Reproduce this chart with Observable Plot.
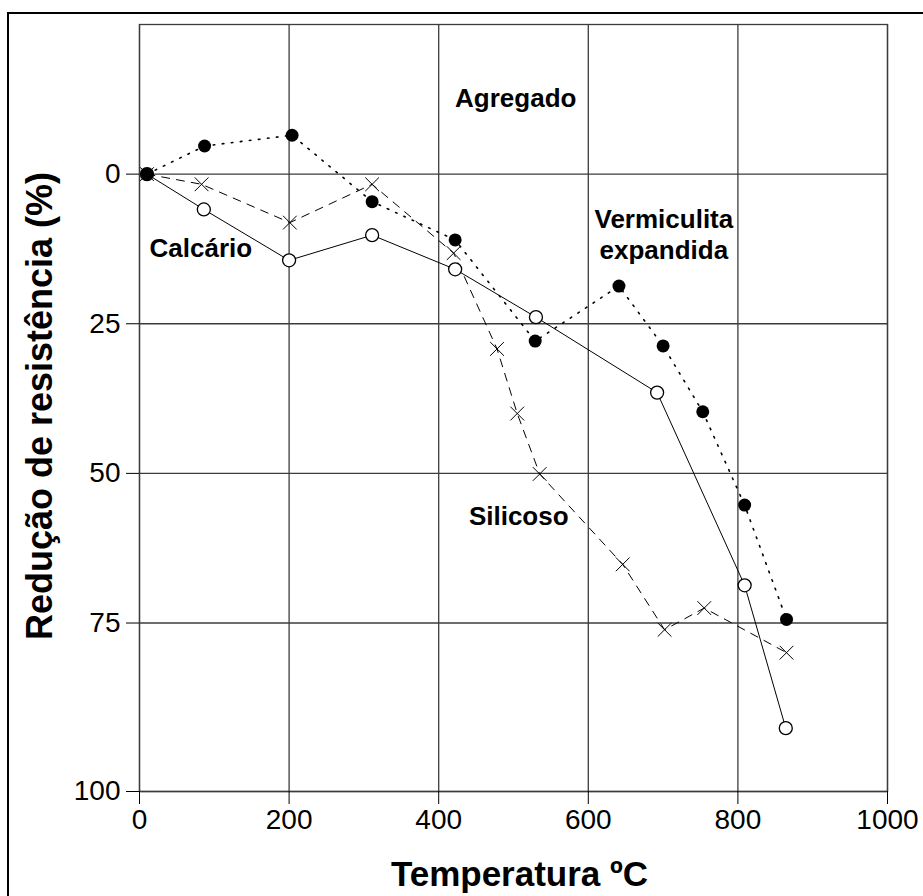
<!DOCTYPE html>
<html>
<head>
<meta charset="utf-8">
<script src="https://cdn.jsdelivr.net/npm/d3@7"></script>
<script src="https://cdn.jsdelivr.net/npm/@observablehq/plot@0.6"></script>
<style>
  html, body { margin: 0; padding: 0; background: #fff; }
  #wrap { position: relative; width: 923px; height: 896px; overflow: hidden; background: #fff; }
  #chart { position: absolute; left: 0; top: 0; }
  #border { position: absolute; left: 7px; top: 12px; width: 1000px; height: 1000px;
            border: 2px solid #000; box-sizing: border-box; pointer-events: none; }
</style>
</head>
<body>
<div id="wrap"><div id="chart"></div><div id="border"></div></div>
<script>
// Redução de resistência (%) vs. temperatura (ºC) por tipo de agregado
const calcarioTemp    = [10, 86, 200, 311, 422, 530, 692, 809, 864];
const calcarioReducao = [0, 5.9, 14.4, 10.2, 15.9, 23.9, 36.5, 68.7, 90.6];

const silicosoTemp    = [10, 83, 201, 311, 420, 478, 505, 535, 646, 702, 755, 865];
const silicosoReducao = [0, 1.7, 8.1, 1.7, 13.2, 29.2, 40.0, 50.1, 65.2, 76.0, 72.5, 79.4];

const vermiculitaTemp    = [10, 87, 204, 311, 422, 529, 641, 700, 753, 809, 865];
const vermiculitaReducao = [0, -4.7, -6.5, 4.6, 11.0, 27.9, 18.7, 28.7, 39.7, 55.3, 74.4];

const xTicks = [0, 200, 400, 600, 800, 1000];
const yTicks = [0, 25, 50, 75, 100];

// Series labels placed in data coordinates
const labelText = ["Agregado", "Calcário", "Vermiculita\nexpandida", "Silicoso"];
const labelTemp = [503, 82, 701, 507];
const labelReducao = [-11.2, 13.8, 14.1, 58.7];

const xTitle = "Temperatura ºC";
const yTitle = "Redução de resistência (%)";

const toRows = (temps, vals) => temps.map((t, i) => ({temperatura: t, reducao: vals[i]}));
const calcario = toRows(calcarioTemp, calcarioReducao);
const silicoso = toRows(silicosoTemp, silicosoReducao);
const vermiculita = toRows(vermiculitaTemp, vermiculitaReducao);
const labels = labelText.map((t, i) => ({text: t, temperatura: labelTemp[i], reducao: labelReducao[i]}));

const W = 923, H = 896;
const gridColor = "#3c3c3c";

// The 75–100 band of the value axis is drawn taller than the other bands:
// values are mapped through this stretch before the linear y scale,
// and tick labels are mapped back to the original values.
const bandStretch = 1.126;
const stretchTail = v => (v <= 75 ? v : 75 + (v - 75) * bandStretch);
const unstretch = u => (u <= 75 ? u : 75 + (u - 75) / bandStretch);
const yOf = d => stretchTail(d.reducao);

const chart = Plot.plot({
  width: W,
  height: H,
  marginTop: 24,
  marginBottom: 105,
  marginLeft: 139,
  marginRight: 36,
  style: {fontFamily: "'Liberation Sans', Arial, sans-serif", color: "#000", background: "#fff"},
  x: {domain: [0, 1000]},
  y: {domain: [-25, stretchTail(100)], reverse: true},
  marks: [
    Plot.ruleX(xTicks, {x: d => d, stroke: gridColor, strokeWidth: 1.3}),
    Plot.ruleY(yTicks, {y: stretchTail, stroke: gridColor, strokeWidth: 1.3}),
    Plot.frame({stroke: gridColor, strokeWidth: 1.3}),
    Plot.axisX({ticks: xTicks, tickSize: 13, tickPadding: 5, fontSize: 28, label: null,
                tickFormat: d => String(d)}),
    Plot.axisY({ticks: yTicks.map(stretchTail), tickSize: 13, tickPadding: 6, fontSize: 28, label: null,
                tickFormat: u => String(Math.round(unstretch(u)))}),
    Plot.line(calcario, {x: "temperatura", y: yOf, stroke: "#000", strokeWidth: 1}),
    Plot.line(silicoso, {x: "temperatura", y: yOf, stroke: "#000", strokeWidth: 1, strokeDasharray: "8,7"}),
    Plot.line(vermiculita, {x: "temperatura", y: yOf, stroke: "#000", strokeWidth: 1.6, strokeDasharray: "1.6,7.5"}),
    Plot.dot(calcario, {x: "temperatura", y: yOf, r: 6.5, fill: "#fff", stroke: "#000", strokeWidth: 1.3}),
    Plot.dot(silicoso, {x: "temperatura", y: yOf, symbol: "times", r: 6.3, stroke: "#000", strokeWidth: 1}),
    Plot.dot(vermiculita, {x: "temperatura", y: yOf, r: 6.5, fill: "#000", stroke: "none"}),
    Plot.text(labels, {x: "temperatura", y: yOf, text: "text", lineAnchor: "bottom", lineHeight: 1.16,
                       fontSize: 26, fontWeight: "bold", fill: "#000"}),
    Plot.text([xTitle], {text: d => d, frameAnchor: "bottom", textAnchor: "middle", dx: 6, dy: 94,
                         lineAnchor: "bottom", fontSize: 35, fontWeight: "bold", fill: "#000"}),
    Plot.text([yTitle], {text: d => d, frameAnchor: "left", textAnchor: "middle", dx: -88, dy: -2, rotate: -90,
                         lineAnchor: "bottom", fontSize: 36, fontWeight: "bold", fill: "#000"})
  ]
});

document.getElementById("chart").appendChild(chart);
</script>
</body>
</html>
